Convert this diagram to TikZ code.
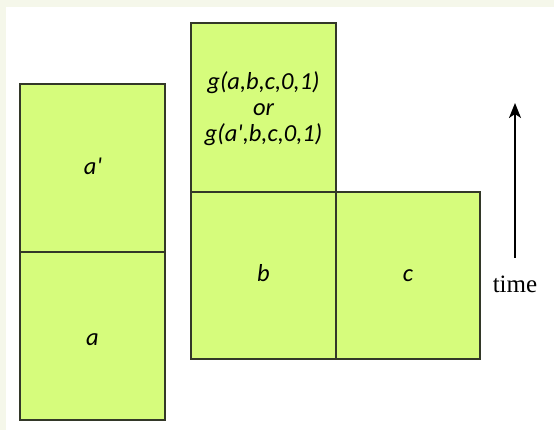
\documentclass[tikz,border=0pt]{standalone}
\usetikzlibrary{arrows.meta}
\usepackage{fontspec}
\setmainfont{Liberation Serif}
\newfontfamily\calib{Carlito}
\definecolor{boxfill}{RGB}{214,252,124}
\definecolor{boxline}{RGB}{51,56,40}
\definecolor{outerbg}{RGB}{245,247,234}
\begin{document}
\begin{tikzpicture}[x=1pt,y=-1pt,
  cell/.style={draw=boxline,line width=1.3pt,fill=boxfill},
  lbl/.style={font=\calib\itshape\fontsize{24.5}{26}\selectfont,align=center,text=black,inner sep=0pt}]
\fill[outerbg] (0,0) rectangle (554,430);
\fill[white] (6,7) rectangle (554,430);
\useasboundingbox (0,0) rectangle (554,430);
\draw[cell] (20,84) rectangle (165,252);
\draw[cell] (20,252) rectangle (165,420);
\draw[cell] (191,23) rectangle (336,192);
\draw[cell] (191,192) rectangle (336,359);
\draw[cell] (336,192) rectangle (480,359);
\node[lbl,anchor=base] (ap) at (93,175) {a\textquotesingle};
\node[lbl,anchor=base] (a) at (92.5,345) {a};
\node[lbl] (g) at (263.5,109) {g(a,b,c,0,1)\\or\\g(a\textquotesingle,b,c,0,1)};
\node[lbl,anchor=base] (b) at (263.5,282) {b};
\node[lbl,anchor=base] (c) at (408,282) {c};
\coordinate (t0) at (515,258);
\coordinate (t1) at (515,103);
\draw[line width=2pt,-{Stealth[length=15pt,width=12pt,inset=4pt]}] (t0) -- (t1);
\node[font=\fontsize{25}{28}\selectfont,anchor=base,inner sep=0pt] (time) at (515,292) {time};
\end{tikzpicture}
\end{document}
